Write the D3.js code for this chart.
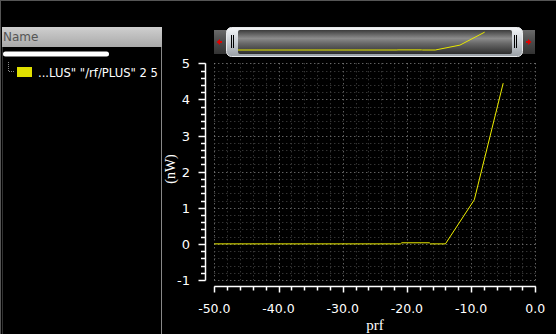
<!DOCTYPE html>
<html><head><meta charset="utf-8">
<script src="https://cdn.jsdelivr.net/npm/d3@7"></script>
<style>html,body{margin:0;padding:0;background:#000;overflow:hidden}</style>
</head><body>
<svg id="c" width="556" height="334"></svg>
<script>
// data
const prf = [-50, -21, -20.8, -16.5, -16.3, -14, -9.5, -5];
const power = [0, 0, 0.03, 0.03, 0, 0, 1.22, 4.45];
const xTicks = [-50, -40, -30, -20, -10, 0];
const yTicks = [-1, 0, 1, 2, 3, 4, 5];
const legendLabel = '...LUS" "/rf/PLUS" 2 5';
const xTitle = "prf", yTitle = "(nW)";

const svg = d3.select("#c");
const W = 556, H = 334;
const hy = s => s.replace("\u2212", "-");
svg.append("rect").attr("width", W).attr("height", H).attr("fill", "#000");
// frame
svg.append("line").attr("x1",0).attr("x2",W).attr("y1",0.5).attr("y2",0.5).attr("stroke","#555");
svg.append("line").attr("x1",0.5).attr("x2",0.5).attr("y1",0).attr("y2",H).attr("stroke","#555");

const defs = svg.append("defs");
const g1 = defs.append("linearGradient").attr("id","hdr").attr("x1",0).attr("x2",0).attr("y1",0).attr("y2",1);
g1.append("stop").attr("offset","0").attr("stop-color","#cfcfcf");
g1.append("stop").attr("offset","1").attr("stop-color","#a9a9a9");

// left panel
svg.append("rect").attr("x",2).attr("y",27).attr("width",160).attr("height",20).attr("fill","url(#hdr)");
svg.append("text").attr("x",3).attr("y",41).text("Name").attr("fill","#555")
  .style("font","12px 'DejaVu Sans'");
svg.append("line").attr("x1",161.5).attr("x2",161.5).attr("y1",47).attr("y2",334).attr("stroke","#888");
svg.append("line").attr("x1",2.5).attr("x2",2.5).attr("y1",47).attr("y2",334).attr("stroke","#333");
svg.append("rect").attr("x",3).attr("y",51.5).attr("width",106).attr("height",5).attr("rx",2.5).attr("fill","#fff");
svg.append("path").attr("d","M8.5,62V71.5H14").attr("fill","none").attr("stroke","#888").attr("stroke-dasharray","1,1");
svg.append("rect").attr("x",17).attr("y",67).attr("width",15).attr("height",10).attr("fill","#e0e000");
svg.append("text").attr("x",38).attr("y",77).text(legendLabel).attr("fill","#fff")
  .style("font","11.6px 'DejaVu Sans'");

// main plot
const x = d3.scaleLinear().domain([-50, 0]).range([214.3, 535.3]);
const y = d3.scaleLinear().domain([-1, 5]).range([280, 63.3]);

// grid
const gx = d3.range(-50, 0.001, 2), gy = d3.range(-1, 5.001, 0.2);
const grid = svg.append("g");
gx.forEach(v => {
  const major = Math.abs(v % 10) < 1e-6;
  grid.append("line").attr("x1", Math.round(x(v))+0.5).attr("x2", Math.round(x(v))+0.5)
    .attr("y1", y(5)).attr("y2", y(-1))
    .attr("stroke", major ? "#8a8a8a" : "#4a4a4a").attr("stroke-dasharray","1,3");
});
gy.forEach(v => {
  const major = Math.abs(v - Math.round(v)) < 1e-6;
  grid.append("line").attr("y1", Math.round(y(v))+0.5).attr("y2", Math.round(y(v))+0.5)
    .attr("x1", x(-50)).attr("x2", x(0))
    .attr("stroke", major ? "#8a8a8a" : "#4a4a4a").attr("stroke-dasharray","1,3");
});

// y axis
const yAxisX = 205.5;
const ya = svg.append("g").attr("stroke","#fff");
ya.append("line").attr("x1",yAxisX).attr("x2",yAxisX).attr("y1",y(5)).attr("y2",y(-1)+0.5).attr("stroke-width",1.5);
gy.forEach(v => {
  const major = Math.abs(v - Math.round(v)) < 1e-6;
  const yy = Math.round(y(v))+0.5;
  ya.append("line").attr("x1", yAxisX - (major ? 7 : 4.5)).attr("x2", yAxisX).attr("y1", yy).attr("y2", yy).attr("stroke-width",1.5);
});
yTicks.forEach(v => {
  svg.append("text").attr("x",190).attr("y",y(v)+5).attr("text-anchor","end").text(hy(d3.format("d")(v)))
    .attr("fill","#fff").style("font","13px 'DejaVu Sans'");
});

// x axis
const xAxisY = 286.5;
const xa = svg.append("g").attr("stroke","#fff");
xa.append("line").attr("x1",x(-50)).attr("x2",x(0)+0.5).attr("y1",xAxisY).attr("y2",xAxisY).attr("stroke-width",1.5);
gx.forEach(v => {
  const major = Math.abs(v % 10) < 1e-6;
  const xx = Math.round(x(v))+0.5;
  xa.append("line").attr("x1", xx).attr("x2", xx).attr("y1", xAxisY).attr("y2", xAxisY + (major ? 6 : 4)).attr("stroke-width",1.5);
});
xTicks.forEach(v => {
  svg.append("text").attr("x",x(v)).attr("y",312.5).attr("text-anchor","middle").text(hy(d3.format(".1f")(v)))
    .attr("fill","#fff").style("font","12.5px 'DejaVu Sans'");
});
svg.append("text").attr("x",375).attr("y",330).attr("text-anchor","middle").text(xTitle)
  .attr("fill","#fff").style("font","15px 'Liberation Serif'");
svg.append("text").attr("transform","translate(175,169) rotate(-90)").attr("text-anchor","middle").text(yTitle)
  .attr("fill","#fff").style("font","14px 'Liberation Serif'");

const pts = prf.map((p,i)=>[p, power[i]]);
svg.append("path").datum(pts).attr("fill","none").attr("stroke","#f0f000").attr("stroke-width",1)
  .attr("d", d3.line().x(d=>x(d[0])).y(d=>y(d[1])));

// scroll bar
const sg = defs.append("linearGradient").attr("id","silver").attr("x1",0).attr("x2",0).attr("y1",0).attr("y2",1);
[["0","#f4f6f8"],["0.5","#c9ced3"],["1","#9aa0a6"]].forEach(s=>sg.append("stop").attr("offset",s[0]).attr("stop-color",s[1]));
const ig = defs.append("linearGradient").attr("id","inner").attr("x1",0).attr("x2",0).attr("y1",0).attr("y2",1);
[["0","#3c3c3c"],["0.35","#8c8c8c"],["0.55","#6a6a6a"],["1","#2e2e2e"]].forEach(s=>ig.append("stop").attr("offset",s[0]).attr("stop-color",s[1]));
const bg = defs.append("linearGradient").attr("id","btn").attr("x1",0).attr("x2",0).attr("y1",0).attr("y2",1);
[["0","#6a6a6a"],["0.5","#4a4a4a"],["1","#333"]].forEach(s=>bg.append("stop").attr("offset",s[0]).attr("stop-color",s[1]));

svg.append("rect").attr("x",214).attr("y",30).attr("width",16).attr("height",24).attr("fill","url(#btn)");
svg.append("rect").attr("x",518).attr("y",30).attr("width",17).attr("height",24).attr("fill","url(#btn)");
svg.append("path").attr("d","M216.5,42L220,39V41H222V43H220V45Z").attr("fill","#e00000");
svg.append("path").attr("d","M531.5,42L528,39V41H526V43H528V45Z").attr("fill","#e00000");
svg.append("rect").attr("x",226.5).attr("y",27.5).attr("width",296).attr("height",29).attr("rx",5).attr("fill","url(#silver)").attr("stroke","#e8eaec");
svg.append("rect").attr("x",238).attr("y",30).attr("width",274).attr("height",24).attr("rx",2).attr("fill","url(#inner)");
[231.5, 233.5, 514.5, 516.5].forEach(gxp => svg.append("line").attr("x1",gxp).attr("x2",gxp).attr("y1",35).attr("y2",48).attr("stroke","#000"));
const mx = d3.scaleLinear().domain([-50,0]).range([238,512]);
const my = d3.scaleLinear().domain([-1,5]).range([54,30]);
svg.append("path").datum(pts).attr("fill","none").attr("stroke","#e8e800").attr("stroke-width",1)
  .attr("d", d3.line().x(d=>mx(d[0])).y(d=>my(d[1])));
</script>
</body></html>
